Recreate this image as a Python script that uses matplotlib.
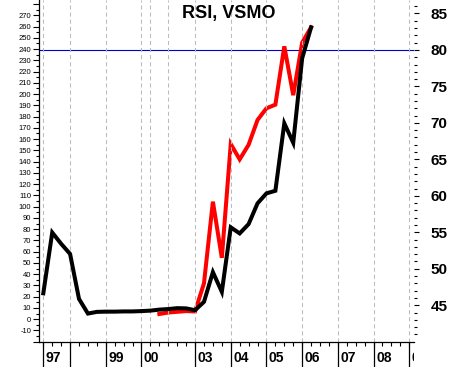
import numpy as np
import matplotlib; matplotlib.use("Agg")
import matplotlib.pyplot as plt

plt.rcParams["font.family"] = ["Liberation Sans", "DejaVu Sans"]

# quarterly sample index (x axis is sample-based, not calendar time)
vsmo_x = list(range(0, 31))
vsmo = [23, 77, 67, 58, 18, 5, 6.5, 6.7, 6.7, 6.9, 6.9, 7.2, 7.6, 8.5, 9, 9.8,
        9.6, 8, 15.4, 41.8, 24.3, 81.6, 76.2, 84.5, 102.9, 111.8, 114.1, 174,
        156.8, 231.8, 259.3]
rsi_x = list(range(13, 31))
rsi = [43.8, 44.0, 44.1, 44.2, 44.15, 48.0, 59.2, 51.5, 67.1, 65.0, 67.0, 70.4,
       72.0, 72.5, 80.5, 73.8, 81.0, 83.1]
grid_idx = [0, 3, 7, 11, 12, 14, 17, 21, 25, 29, 33, 37, 41]
sep_idx = [0, 3, 7, 11, 17, 21, 25, 29, 33, 37, 41]
sep_lab = ["97", "", "99", "00", "03", "04", "05", "06", "07", "08", "09"]
rsi_level = 80

W, H = 453, 367
L, R, B = 38.5, 414, 341.7
XL = (-0.538, 41.53)

fig = plt.figure(figsize=(W / 100, H / 100), dpi=100)
ax = fig.add_axes([L / W, 1 - B / H, (R - L) / W, B / H])
ax2 = ax.twinx()
ax.set_zorder(ax2.get_zorder() + 1)
ax.patch.set_visible(False)

ax.set_xlim(*XL)
ax.set_ylim(-20, 283.6)
ax2.set_ylim(40, 86.85)

for i in grid_idx:
    ax.axvline(i, color="#bbbbbb", lw=0.75, ls=(0, (3.9, 2.9)), zorder=0)

ax2.axhline(rsi_level, color="#0000cc", lw=0.8, zorder=1)
ax2.plot(rsi_x, rsi, color="#ff0000", lw=2.9, solid_joinstyle="miter", zorder=2)
ax.plot(vsmo_x, vsmo, color="black", lw=2.9, solid_joinstyle="miter", zorder=3)

# left axis
ax.set_yticks(np.arange(-20, 281, 10))
ax.set_yticks(np.arange(-15, 281, 10), minor=True)
ax.set_yticklabels(["" if v in (-20, 280) else str(v) for v in range(-20, 281, 10)])
ax.tick_params(axis="y", which="major", length=4.3, width=0.8, pad=1,
               labelsize=5.5, direction="out")
ax.tick_params(axis="y", which="minor", length=2.2, width=0.8, direction="out")
ax.set_xticks([])
for sp in ["top", "right"]:
    ax.spines[sp].set_visible(False)
ax.spines["left"].set_linewidth(0.9)
ax.spines["bottom"].set_linewidth(0.9)

# right axis
for sp in ax2.spines.values():
    sp.set_visible(False)
ax2.set_yticks(np.arange(45, 86, 5))
ax2.set_yticks(np.arange(41, 87, 1), minor=True)
ax2.tick_params(axis="y", which="major", length=3.8, width=0.8, pad=8,
                labelsize=11, direction="out")
ax2.tick_params(axis="y", which="minor", length=2.4, width=0.8, direction="out")
for t in ax2.get_yticklabels():
    t.set_fontweight("bold")

# x axis strip
axs = fig.add_axes([L / W, 0, (R - L) / W, (H - B) / H])
axs.set_xlim(*XL)
axs.set_ylim(H - B, 0)
axs.axis("off")
axs.vlines(range(0, 42), 0, 4.5, color="black", lw=0.8)
axs.vlines(sep_idx, 0, H - B, color="black", lw=0.9)
for i, lab in zip(sep_idx, sep_lab):
    axs.text(i + 0.28, 16.3, lab, ha="left", va="center", fontsize=10,
             fontweight="bold", clip_on=True)

fig.text(228.5 / W, 1 - 13.3 / H, "RSI, VSMO", ha="center", va="center",
         fontsize=13, fontweight="bold")

fig.savefig("out.png", dpi=100, facecolor="white")
